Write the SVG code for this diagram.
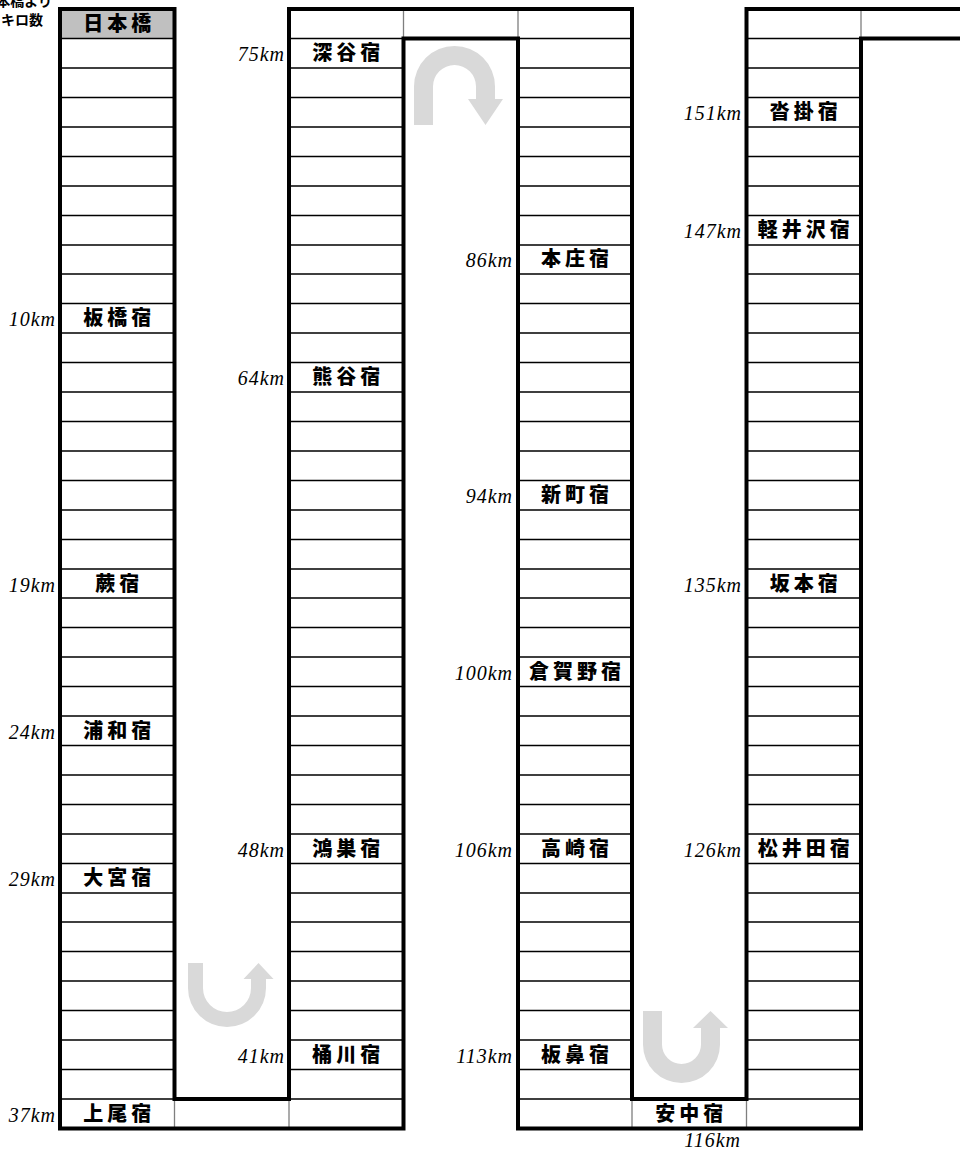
<svg xmlns="http://www.w3.org/2000/svg" width="960" height="1151" viewBox="0 0 960 1151">
<style>
.st{font-family:"Noto Sans CJK JP","Noto Sans CJK SC",sans-serif;font-weight:900;font-size:20px;letter-spacing:4px;text-anchor:middle;fill:#000}
.km{font-family:"Liberation Serif",serif;font-style:italic;font-size:20px;letter-spacing:1px;text-anchor:end;fill:#000}
.note{font-family:"Noto Sans CJK JP",sans-serif;font-weight:700;font-size:14px;text-anchor:end;fill:#000}
.thin{stroke:#000;stroke-width:1.6;fill:none}
.gray{stroke:#7f7f7f;stroke-width:1.3;fill:none}
.thick{stroke:#000;stroke-width:4;fill:none;stroke-linejoin:miter;stroke-linecap:square}
.arrow{fill:#d9d9d9;stroke:none}
</style>
<rect width="960" height="1151" fill="#fff"/>
<g id="grid">
<rect x="60" y="9" width="114.5" height="29.5" fill="#c0c0c0"/>
<path class="thin" d="M60,38.5h114.5M60,68h114.5M60,97.5h114.5M60,127h114.5M60,156.5h114.5M60,186h114.5M60,215.5h114.5M60,245h114.5M60,274h114.5M60,303.5h114.5M60,333h114.5M60,362.5h114.5M60,392h114.5M60,421.5h114.5M60,451h114.5M60,480.5h114.5M60,510h114.5M60,539.5h114.5M60,569h114.5M60,598h114.5M60,627.5h114.5M60,657h114.5M60,686.5h114.5M60,716h114.5M60,745.5h114.5M60,775h114.5M60,804.5h114.5M60,834h114.5M60,863.5h114.5M60,893h114.5M60,922h114.5M60,951.5h114.5M60,981h114.5M60,1010.5h114.5M60,1040h114.5M60,1069.5h114.5M60,1099h114.5"/>
<path class="thin" d="M289,38.5h114.5M289,68h114.5M289,97.5h114.5M289,127h114.5M289,156.5h114.5M289,186h114.5M289,215.5h114.5M289,245h114.5M289,274h114.5M289,303.5h114.5M289,333h114.5M289,362.5h114.5M289,392h114.5M289,421.5h114.5M289,451h114.5M289,480.5h114.5M289,510h114.5M289,539.5h114.5M289,569h114.5M289,598h114.5M289,627.5h114.5M289,657h114.5M289,686.5h114.5M289,716h114.5M289,745.5h114.5M289,775h114.5M289,804.5h114.5M289,834h114.5M289,863.5h114.5M289,893h114.5M289,922h114.5M289,951.5h114.5M289,981h114.5M289,1010.5h114.5M289,1040h114.5M289,1069.5h114.5M289,1099h114.5"/>
<path class="thin" d="M518,38.5h114M518,68h114M518,97.5h114M518,127h114M518,156.5h114M518,186h114M518,215.5h114M518,245h114M518,274h114M518,303.5h114M518,333h114M518,362.5h114M518,392h114M518,421.5h114M518,451h114M518,480.5h114M518,510h114M518,539.5h114M518,569h114M518,598h114M518,627.5h114M518,657h114M518,686.5h114M518,716h114M518,745.5h114M518,775h114M518,804.5h114M518,834h114M518,863.5h114M518,893h114M518,922h114M518,951.5h114M518,981h114M518,1010.5h114M518,1040h114M518,1069.5h114M518,1099h114"/>
<path class="thin" d="M746.5,38.5h114.5M746.5,68h114.5M746.5,97.5h114.5M746.5,127h114.5M746.5,156.5h114.5M746.5,186h114.5M746.5,215.5h114.5M746.5,245h114.5M746.5,274h114.5M746.5,303.5h114.5M746.5,333h114.5M746.5,362.5h114.5M746.5,392h114.5M746.5,421.5h114.5M746.5,451h114.5M746.5,480.5h114.5M746.5,510h114.5M746.5,539.5h114.5M746.5,569h114.5M746.5,598h114.5M746.5,627.5h114.5M746.5,657h114.5M746.5,686.5h114.5M746.5,716h114.5M746.5,745.5h114.5M746.5,775h114.5M746.5,804.5h114.5M746.5,834h114.5M746.5,863.5h114.5M746.5,893h114.5M746.5,922h114.5M746.5,951.5h114.5M746.5,981h114.5M746.5,1010.5h114.5M746.5,1040h114.5M746.5,1069.5h114.5M746.5,1099h114.5"/>
<path class="gray" d="M174.5,1099V1128.5M289,1099V1128.5M403.5,9V38.5M518,9V38.5M632,1099V1128.5M746.5,1099V1128.5M861,9V38.5"/>
<path class="thick" d="M60,9H174.5V1099H289V9H632V1099H746.5V9H962"/>
<path class="thick" d="M962,38.5H861V1128.5H518V38.5H403.5V1128.5H60V9"/>
</g>
<g id="connectors">
<path class="arrow" d="M188,963H203V988A24,24 0 0 0 251,988V979H243.5L258.5,963L273.5,979H266V988A39,39 0 0 1 188,988Z"/>
<path class="arrow" d="M414,125H433V86.5A21.5,21.5 0 0 1 476,86.5V99H468L485.5,125L503,99H495V86.5A40.5,40.5 0 0 0 414,86.5Z"/>
<path class="arrow" d="M643,1011H662V1044.5A19.5,19.5 0 0 0 701,1044.5V1028H693L710.5,1011L728,1028H720V1044.5A38.5,38.5 0 0 1 643,1044.5Z"/>
</g>
<g id="note">
<text class="note" x="52" y="6">日本橋より</text>
<text class="note" x="43" y="25">キロ数</text>
</g>
<g id="n-nihonbashi"><text class="st" x="119.3" y="30.7">日本橋</text></g>
<g id="n-itabashi"><text class="km" x="56" y="326.3">10km</text><text class="st" x="119.3" y="325.3">板橋宿</text></g>
<g id="n-warabi"><text class="km" x="56" y="591.5">19km</text><text class="st" x="119.3" y="590.5">蕨宿</text></g>
<g id="n-urawa"><text class="km" x="56" y="738.8">24km</text><text class="st" x="119.3" y="737.8">浦和宿</text></g>
<g id="n-omiya"><text class="km" x="56" y="886.1">29km</text><text class="st" x="119.3" y="885.1">大宮宿</text></g>
<g id="n-ageo"><text class="km" x="56" y="1121.8">37km</text><text class="st" x="119.3" y="1120.8">上尾宿</text></g>
<g id="n-okegawa"><text class="km" x="285" y="1062.8">41km</text><text class="st" x="348.3" y="1061.8">桶川宿</text></g>
<g id="n-konosu"><text class="km" x="285" y="856.6">48km</text><text class="st" x="348.3" y="855.6">鴻巣宿</text></g>
<g id="n-kumagaya"><text class="km" x="285" y="385.3">64km</text><text class="st" x="348.3" y="384.3">熊谷宿</text></g>
<g id="n-fukaya"><text class="km" x="285" y="61.2">75km</text><text class="st" x="348.3" y="60.2">深谷宿</text></g>
<g id="n-honjo"><text class="km" x="513" y="267.4">86km</text><text class="st" x="577" y="266.4">本庄宿</text></g>
<g id="n-shinmachi"><text class="km" x="513" y="503.1">94km</text><text class="st" x="577" y="502.1">新町宿</text></g>
<g id="n-kuragano"><text class="km" x="513" y="679.9">100km</text><text class="st" x="577" y="678.9">倉賀野宿</text></g>
<g id="n-takasaki"><text class="km" x="513" y="856.6">106km</text><text class="st" x="577" y="855.6">高崎宿</text></g>
<g id="n-itahana"><text class="km" x="513" y="1062.8">113km</text><text class="st" x="577" y="1061.8">板鼻宿</text></g>
<g id="n-annaka"><text class="st" x="691.3" y="1120.8">安中宿</text><text class="km" x="741" y="1147">116km</text></g>
<g id="n-matsuida"><text class="km" x="742" y="856.6">126km</text><text class="st" x="805.8" y="855.6">松井田宿</text></g>
<g id="n-sakamoto"><text class="km" x="742" y="591.5">135km</text><text class="st" x="805.8" y="590.5">坂本宿</text></g>
<g id="n-karuizawa"><text class="km" x="742" y="238">147km</text><text class="st" x="805.8" y="237">軽井沢宿</text></g>
<g id="n-kutsukake"><text class="km" x="742" y="120.1">151km</text><text class="st" x="805.8" y="119.1">沓掛宿</text></g>
</svg>
